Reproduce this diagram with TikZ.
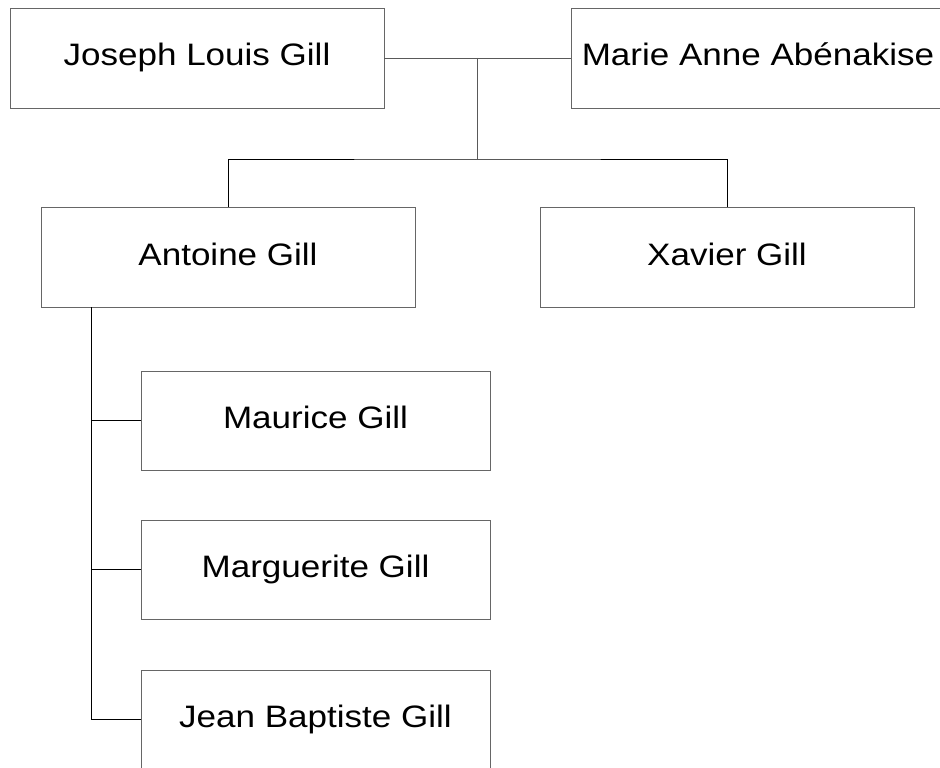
\documentclass[tikz,border=0pt]{standalone}
\usepackage{graphicx}
\usepackage{fontspec}
\setmainfont{Liberation Sans}
\definecolor{boxgray}{gray}{0.4}
\definecolor{linegray}{gray}{0.35}
\tikzset{
  person/.style={draw=boxgray, line width=0.9pt, fill=white, rectangle,
    minimum width=#1, minimum height=100pt, inner sep=0pt,
    text height=22pt, text depth=7pt,
    font=\fontsize{31}{36}\selectfont},
  person/.default=374pt,
  child/.style={person=349pt, minimum height=99pt},
  link/.style={draw=black, line width=0.8pt},
  glink/.style={draw=linegray, line width=0.9pt}
}
\newcommand{\wt}[1]{\scalebox{1.13}[1]{#1}}
\begin{document}
\begin{tikzpicture}[x=1pt,y=-1pt]
\useasboundingbox (0,0) rectangle (940,768);
\node[person] (j) at (197,58) {\wt{Joseph Louis Gill}};
\node[person] (m) at (758,58) {\wt{Marie Anne Abénakise}};
\node[person] (a) at (228,257.5) {\wt{Antoine Gill}};
\node[person] (x) at (727,257.5) {\wt{Xavier Gill}};
\node[child] (mau) at (315.5,420.5) {\wt{Maurice Gill}};
\node[child] (mar) at (315.5,569.5) {\wt{Marguerite Gill}};
\node[child] (jb) at (315.5,719.5) {\wt{Jean Baptiste Gill}};
\coordinate (cm) at (477,58);
\coordinate (cb) at (477,159);
\coordinate (at) at (91,307);
\draw[glink] (j.east) -- (m.west);
\draw[glink] (cm) -- (cb);
\draw[link] (a.north) |- (cb) -| (x.north);
\draw[link] (at) |- (jb.west);
\draw[link] (at) |- (mau.west);
\draw[link] (at) |- (mar.west);
\end{tikzpicture}
\end{document}
